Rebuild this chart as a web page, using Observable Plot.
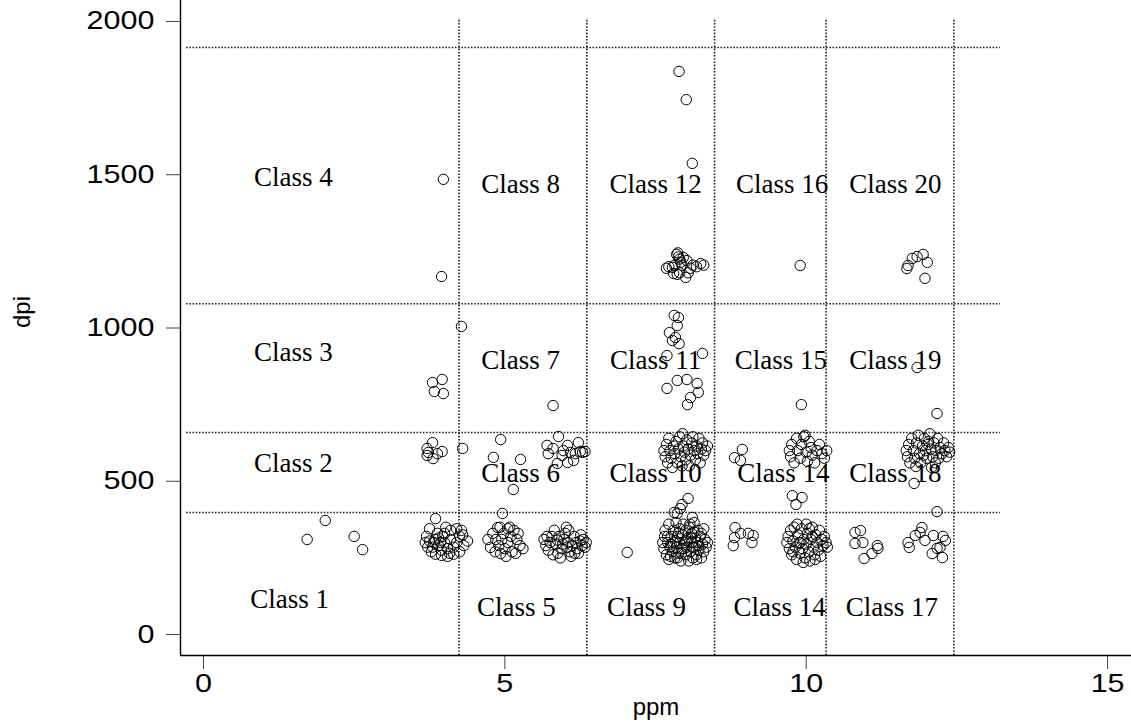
<!DOCTYPE html>
<html>
<head>
<meta charset="utf-8">
<script src="https://cdn.jsdelivr.net/npm/d3@7"></script>
<script src="https://cdn.jsdelivr.net/npm/@observablehq/plot@0.6"></script>
<style>
  html, body { margin: 0; padding: 0; background: white; }
</style>
</head>
<body>
<div id="chart"></div>
<script>
// ---------- data: [ppm, dpi] pairs ----------
const class1Pts = [[1.72,310],[2.02,372],[2.50,320],[2.64,277]];
const bottomNear4 = [[3.85,378],[3.75,345],[3.70,320],[3.68,300],[3.72,285],[3.78,270],[3.85,262],[3.95,258],[4.05,255],[4.15,262],[4.25,270],[4.32,290],[4.38,305],[4.30,325],[4.20,345],[4.10,340],[4.00,330],[3.90,315],[3.82,300],[3.80,285],[3.90,290],[4.00,300],[4.10,310],[4.20,300],[4.05,280],[3.95,275],[3.88,330],[4.15,285],[3.75,305],[4.25,320],[4.02,350],[3.93,300],[3.84,310],[4.08,265],[4.28,340],[3.97,320]];
const class5Mid = [[4.96,395],[4.88,349],[4.76,284],[4.93,264],[4.80,330],[4.85,310],[4.90,290],[5.00,280],[5.05,300],[5.10,320],[5.15,340],[5.20,310],[5.25,290],[5.30,280],[5.12,270],[5.02,255],[4.98,330],[5.08,350],[4.72,310],[4.95,310],[5.18,265],[5.05,345],[4.84,270],[5.22,330],[4.92,350]];
const class5Right = [[5.65,310],[5.68,290],[5.72,275],[5.75,300],[5.78,320],[5.82,340],[5.85,295],[5.88,265],[5.92,250],[5.95,280],[5.98,310],[6.00,330],[6.02,350],[6.05,300],[6.08,270],[6.10,255],[6.12,290],[6.15,320],[6.18,300],[6.20,280],[6.22,265],[6.25,305],[6.28,290],[6.30,310],[6.33,285],[6.35,300],[5.90,320],[5.80,260],[6.06,340],[6.16,265],[5.70,320],[5.96,295],[6.26,325],[5.87,308],[6.03,285]];
const class9Pts = [[7.03,268],[7.62,300],[7.64,280],[7.65,320],[7.66,340],[7.68,260],[7.70,300],[7.72,360],[7.72,245],[7.74,285],[7.76,320],[7.78,270],[7.80,340],[7.80,300],[7.82,250],[7.84,365],[7.85,285],[7.86,320],[7.88,265],[7.90,300],[7.90,345],[7.92,240],[7.94,280],[7.95,325],[7.96,360],[7.98,300],[8.00,260],[8.00,340],[8.02,285],[8.04,315],[8.05,240],[8.06,350],[8.08,270],[8.10,300],[8.10,330],[8.12,250],[8.14,365],[8.15,285],[8.16,315],[8.18,260],[8.20,340],[8.20,300],[8.22,275],[8.24,320],[8.26,250],[8.28,295],[8.30,345],[8.30,270],[8.32,310],[8.34,285],[8.36,300],[7.75,255],[7.88,330],[8.02,305],[8.12,285],[8.26,330],[7.70,320],[7.93,265],[8.07,360],[8.18,245],[7.83,305],[7.76,295],[7.97,280],[8.09,315],[8.22,290],[7.86,250],[8.14,335],[8.04,444],[7.94,424],[7.81,398],[7.86,395],[8.11,382],[7.91,411]];
const class13Pts = [[8.82,349],[8.91,330],[8.81,316],[9.04,330],[9.10,300],[8.79,290],[9.12,323]];
const class14Low = [[9.68,300],[9.70,320],[9.72,280],[9.74,340],[9.76,260],[9.78,305],[9.80,350],[9.82,285],[9.84,245],[9.86,325],[9.88,300],[9.90,265],[9.92,345],[9.94,280],[9.96,310],[9.98,250],[10.00,360],[10.00,295],[10.02,330],[10.04,270],[10.06,240],[10.08,310],[10.10,350],[10.12,285],[10.14,260],[10.16,325],[10.18,300],[10.20,275],[10.22,340],[10.24,255],[10.26,310],[10.28,290],[10.30,320],[10.33,300],[10.35,285],[9.85,360],[9.95,235],[10.05,345],[10.15,245],[9.78,270],[10.10,320],[9.90,300]];
const class17Pts = [[10.81,333],[10.90,339],[10.81,297],[10.94,300],[11.18,290],[11.19,281],[11.09,264],[10.96,248],[11.69,300],[11.71,284],[11.81,323],[11.92,349],[11.97,307],[12.11,323],[12.22,284],[12.27,320],[12.09,264],[12.26,251],[12.17,281],[12.31,307],[11.89,333],[12.17,401]];
const class2Pts = [[3.80,626],[3.71,607],[3.73,594],[3.81,574],[3.96,597],[3.71,584],[3.88,590],[4.30,607]];
const class6Pts = [[4.93,636],[4.81,578],[5.26,571],[5.14,473],[5.89,646],[5.70,617],[5.72,590],[5.87,558],[6.04,561],[6.14,568],[6.04,617],[6.22,626],[6.25,597],[6.29,594],[5.97,600],[6.09,594],[6.17,590],[5.80,607],[5.95,584],[6.33,597]];
const class10Pts = [[7.64,600],[7.66,580],[7.68,620],[7.70,560],[7.72,640],[7.74,600],[7.76,575],[7.78,545],[7.80,615],[7.82,590],[7.84,630],[7.86,560],[7.88,605],[7.90,645],[7.92,580],[7.94,550],[7.96,615],[7.98,595],[8.00,570],[8.02,635],[8.04,605],[8.06,550],[8.08,585],[8.10,625],[8.12,645],[8.14,600],[8.16,570],[8.18,615],[8.20,590],[8.22,640],[8.24,560],[8.26,605],[8.28,625],[8.30,585],[8.33,600],[8.36,615],[7.95,655]];
const class14Mid = [[8.94,604],[8.81,577],[8.91,568],[9.72,600],[9.74,580],[9.76,620],[9.80,560],[9.84,640],[9.86,600],[9.90,575],[9.92,620],[9.96,645],[10.00,595],[10.02,565],[10.05,630],[10.08,610],[10.10,585],[10.14,560],[10.18,600],[10.22,620],[10.26,590],[10.30,575],[10.34,600],[9.98,650],[9.77,453],[9.93,447],[9.83,424]];
const class18Pts = [[11.66,600],[11.68,580],[11.70,620],[11.72,560],[11.75,640],[11.78,600],[11.80,575],[11.83,625],[11.86,650],[11.88,590],[11.90,560],[11.93,615],[11.96,640],[11.98,600],[12.00,575],[12.03,630],[12.05,655],[12.07,605],[12.10,580],[12.12,625],[12.15,600],[12.18,640],[12.20,575],[12.22,610],[12.25,590],[12.28,625],[12.30,600],[12.33,580],[12.36,610],[12.38,595],[11.95,585],[12.08,545],[12.14,560],[11.82,548],[12.02,620],[11.79,493]];
const class3and7Pts = [[3.80,822],[3.96,832],[3.83,793],[3.98,786],[4.28,1005],[5.80,747]];
const class11Pts = [[7.81,1041],[7.88,1034],[7.86,1008],[7.73,985],[7.83,969],[7.78,959],[7.89,949],[7.69,910],[8.28,917],[7.69,803],[7.86,829],[8.02,832],[8.19,819],[8.21,790],[8.08,773],[8.03,750]];
const class15and19Pts = [[9.92,750],[11.84,871],[12.17,721]];
const class4Pts = [[3.98,1485],[3.95,1168]];
const class12Pts = [[7.89,1837],[8.01,1745],[8.11,1537],[7.72,1200],[7.68,1195],[7.78,1198],[7.82,1205],[7.85,1240],[7.87,1245],[7.88,1232],[7.90,1225],[7.92,1215],[7.94,1205],[7.90,1180],[7.86,1175],[8.00,1165],[8.04,1180],[8.08,1195],[8.12,1205],[8.18,1200],[8.25,1210],[8.30,1205],[7.96,1230],[8.02,1220],[7.80,1178]];
const class16Pts = [[9.90,1204]];
const class20Pts = [[11.69,1204],[11.76,1227],[11.84,1233],[11.94,1240],[12.01,1214],[11.97,1162],[11.67,1194]];

// class boundaries
const ppmCuts = [4.24, 6.36, 8.48, 10.33, 12.45];
const dpiCuts = [398, 659, 1079, 1915];

// class labels: [text, ppm, dpi]
const classLabels = [
  ["Class 4", 1.49, 1491], ["Class 3", 1.49, 920], ["Class 2", 1.49, 558], ["Class 1", 1.43, 114],
  ["Class 8", 5.26, 1468], ["Class 7", 5.26, 894], ["Class 6", 5.26, 526], ["Class 5", 5.19, 88],
  ["Class 12", 7.50, 1468], ["Class 11", 7.50, 894], ["Class 10", 7.50, 526], ["Class 9", 7.35, 88],
  ["Class 16", 9.60, 1468], ["Class 15", 9.58, 894], ["Class 14", 9.62, 526], ["Class 14", 9.56, 88],
  ["Class 20", 11.48, 1468], ["Class 19", 11.48, 894], ["Class 18", 11.48, 526], ["Class 17", 11.42, 88]
];

const xTicks = [0, 5, 10, 15];
const yTicks = [0, 500, 1000, 1500, 2000];
const xTitle = "ppm";
const yTitle = "dpi";

// ---------- build ----------
const points = [].concat(class1Pts, bottomNear4, class5Mid, class5Right, class9Pts, class13Pts,
  class14Low, class17Pts, class2Pts, class6Pts, class10Pts, class14Mid, class18Pts,
  class3and7Pts, class11Pts, class15and19Pts, class4Pts, class12Pts, class16Pts, class20Pts)
  .map(([ppm, dpi]) => ({ppm, dpi}));
const labels = classLabels.map(([text, ppm, dpi]) => ({text, ppm, dpi}));

const xMin = -0.3816, xMax = 15.397;
const yMin = -68.5, yMax = 2068.5;
const dotted = {stroke: "#222", strokeWidth: 1.6, strokeDasharray: "1.6,1.6"};

const chart = Plot.plot({
  width: 1131,
  height: 727,
  marginLeft: 180,
  marginRight: 0,
  marginTop: 0,
  marginBottom: 72,
  style: {fontFamily: "Liberation Sans", fontSize: "25px", background: "white", color: "black"},
  x: {domain: [xMin, xMax], axis: null},
  y: {domain: [yMin, yMax], axis: null},
  marks: [
    Plot.ruleX(ppmCuts, {y1: yMin, y2: 2010, ...dotted}),
    Plot.ruleY(dpiCuts, {x1: -0.28, x2: 13.22, ...dotted}),
    Plot.text(labels, {x: "ppm", y: "dpi", text: "text", fontFamily: "Liberation Serif", fontSize: 27, fill: "black", textAnchor: "middle", lineAnchor: "middle"}),
    Plot.dot(points, {x: "ppm", y: "dpi", r: 5.2, stroke: "black", strokeWidth: 1, fill: "none"}),
    Plot.axisX({ticks: xTicks, tickSize: 14, tickPadding: 5, label: null, stroke: "#444", fill: "black", tickFormat: d => String(d)}),
    Plot.axisY({ticks: yTicks, tickSize: 14, tickPadding: 12, label: null, stroke: "#444", fill: "black", tickFormat: d => String(d)}),
    Plot.ruleX([xMin], {stroke: "black", strokeWidth: 1.4}),
    Plot.ruleY([yMin], {stroke: "black", strokeWidth: 1.4}),
    Plot.text([xTitle], {frameAnchor: "bottom", dy: 59, fontSize: 24, fill: "black", ariaLabel: "xtitle"}),
    Plot.text([yTitle], {frameAnchor: "left", dx: -158, rotate: -90, fontSize: 24, fill: "black", ariaLabel: "ytitle"})
  ]
});

document.getElementById("chart").appendChild(chart);

// widen sans-serif glyphs to match the wide face of the original
const stretch = 1.22;
d3.select(chart).selectAll('g[aria-label="x-axis tick label"] text, g[aria-label="y-axis tick label"] text, g[aria-label="xtitle"] text, g[aria-label="ytitle"] text')
  .each(function() {
    const len = this.getComputedTextLength();
    this.setAttribute("textLength", (len * stretch).toFixed(1));
    this.setAttribute("lengthAdjust", "spacingAndGlyphs");
  });
</script>
</body>
</html>
